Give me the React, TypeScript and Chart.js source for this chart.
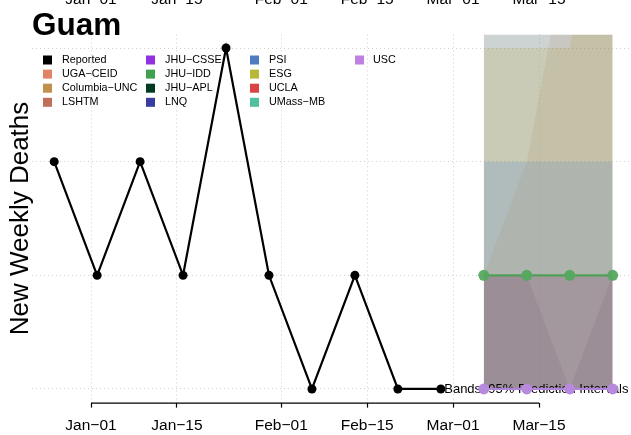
import React, { useEffect, useRef } from "react";
import { Chart, registerables } from "chart.js";

Chart.register(...registerables);

// ---------------- data ----------------
const regionName = "Guam";
const yAxisTitle = "New Weekly Deaths";
const bandNote = "Bands: 95% Prediction Intervals";

// x values are days since 2021-01-01
const reportedDays = [-6, 1, 8, 15, 22, 29, 36, 43, 50, 57];
const reportedDeaths = [2, 1, 2, 1, 3, 1, 0, 1, 0, 0];

const forecastDays = [64, 71, 78, 85];
const jhuIddMedian = [1, 1, 1, 1];
const uscMedian = [0, 0, 0, 0];

// 95% prediction interval bounds (stacked translucent layers)
const bandLower = [0, 0, 0, 0];
const bandUpperWide = [6, 6, 6, 6];
const bandUpperEsg = [3, 3, 3, 5];
const bandUpperPsi = [2, 2, 2, 2];
const bandUpperColumbia = [1, 2, 4, 6];
const bandUpperLshtm = [1, 1, 1, 1];
const bandUpperUsc = [1, 1, 0, 1];

const tickDays = [0, 14, 31, 45, 59, 73];
const tickLabels = ["Jan\u221201", "Jan\u221215", "Feb\u221201", "Feb\u221215", "Mar\u221201", "Mar\u221215"];
const yTicks = [0, 1, 2, 3];

const legendNames = [
  "Reported", "UGA\u2212CEID", "Columbia\u2212UNC", "LSHTM",
  "JHU\u2212CSSE", "JHU\u2212IDD", "JHU\u2212APL", "LNQ",
  "PSI", "ESG", "UCLA", "UMass\u2212MB",
  "USC",
];
const legendColors = [
  "#000000", "#e08468", "#c0904c", "#c0705a",
  "#9030e0", "#40a050", "#003a20", "#3a3ca0",
  "#4f7cc0", "#b8b838", "#d84444", "#50c0a0",
  "#c080e0",
];

// ---------------- styles ----------------
const FONT = "'Liberation Sans', Arial, Helvetica, sans-serif";
const bandLayers = [
  { name: "wide", upper: bandUpperWide, color: "rgba(144,155,155,0.45)" },
  { name: "ESG", upper: bandUpperEsg, color: "rgba(172,163,17,0.15)" },
  { name: "PSI", upper: bandUpperPsi, color: "rgba(80,128,211,0.2)" },
  { name: "Columbia-UNC", upper: bandUpperColumbia, color: "rgba(162,111,60,0.1)" },
  { name: "LSHTM", upper: bandUpperLshtm, color: "rgba(112,39,93,0.2)" },
  { name: "USC", upper: bandUpperUsc, color: "rgba(115,85,105,0.15)" },
];
const LEG_SQ_X = [43, 146, 250, 355];
const LEG_TX_X = [62, 165, 269, 373];
const LEG_Y0 = 60;
const LEG_DY = 14.1;

const pts = (xs: number[], ys: number[]) => xs.map((x, i) => ({ x, y: ys[i] }));

export default function App() {
  const ref = useRef<HTMLCanvasElement | null>(null);

  useEffect(() => {
    const canvas = ref.current;
    if (!canvas) return;
    Chart.defaults.font.family = FONT;

    const datasets: any[] = [];
    datasets.push({
      label: "Reported",
      data: pts(reportedDays, reportedDeaths),
      borderColor: "#000",
      backgroundColor: "#000",
      borderWidth: 2.2,
      pointRadius: 4.5,
      pointBackgroundColor: "#000",
      pointBorderColor: "#000",
      pointBorderWidth: 0,
      order: 0,
    });
    datasets.push({
      label: "JHU\u2212IDD",
      data: pts(forecastDays, jhuIddMedian),
      borderColor: "rgba(70,160,80,0.9)",
      backgroundColor: "rgba(85,168,95,0.95)",
      borderWidth: 2.2,
      pointRadius: 5.5,
      pointBackgroundColor: "rgba(85,168,95,0.95)",
      pointBorderWidth: 0,
      order: 1,
    });
    datasets.push({
      label: "USC",
      data: pts(forecastDays, uscMedian),
      borderColor: "#b084d8",
      backgroundColor: "#b88ade",
      borderWidth: 2.2,
      pointRadius: 5.5,
      pointBackgroundColor: "#b88ade",
      pointBorderWidth: 0,
      order: 2,
    });
    let noteIndex = -1;
    bandLayers.forEach((b, k) => {
      const ord = 100 - k * 10;
      datasets.push({
        label: b.name + " lower",
        data: pts(forecastDays, bandLower),
        borderColor: "rgba(0,0,0,0)",
        borderWidth: 0,
        pointRadius: 0,
        fill: false,
        order: ord,
      });
      datasets.push({
        label: b.name + " upper",
        data: pts(forecastDays, b.upper),
        borderColor: "rgba(0,0,0,0)",
        borderWidth: 0,
        pointRadius: 0,
        fill: "-1",
        backgroundColor: b.color,
        order: ord,
      });
      noteIndex = datasets.length - 1;
    });

    const decor = {
      id: "decor",
      beforeDatasetsDraw(chart: any) {
        const ctx = chart.ctx;
        ctx.save();
        ctx.font = `10.8px ${FONT}`;
        ctx.textBaseline = "middle";
        ctx.textAlign = "left";
        legendNames.forEach((name, i) => {
          const col = Math.floor(i / 4);
          const row = i % 4;
          const y = LEG_Y0 + row * LEG_DY;
          ctx.fillStyle = legendColors[i];
          ctx.fillRect(LEG_SQ_X[col], y - 4.5, 9, 9);
          ctx.fillStyle = "#000";
          ctx.fillText(name, LEG_TX_X[col], y);
        });
        ctx.restore();
      },
      afterDatasetDraw(chart: any, args: any) {
        if (args.index !== noteIndex) return;
        const ctx = chart.ctx;
        const ys = chart.scales.y;
        ctx.save();
        ctx.font = `13px ${FONT}`;
        ctx.fillStyle = "#000";
        ctx.textAlign = "right";
        ctx.textBaseline = "middle";
        ctx.fillText(bandNote, chart.chartArea.right - 3, ys.getPixelForValue(0));
        ctx.restore();
      },
      afterDraw(chart: any) {
        const ctx = chart.ctx;
        const xs = chart.scales.x;
        const yb = chart.chartArea.bottom + 0.5;
        ctx.save();
        ctx.strokeStyle = "#000";
        ctx.lineWidth = 1.2;
        ctx.beginPath();
        ctx.moveTo(xs.getPixelForValue(tickDays[0]), yb);
        ctx.lineTo(xs.getPixelForValue(tickDays[tickDays.length - 1]), yb);
        ctx.stroke();
        // tick labels of the panel above, cut off by the top edge
        ctx.font = `15.5px ${FONT}`;
        ctx.fillStyle = "#000";
        ctx.textAlign = "center";
        ctx.textBaseline = "alphabetic";
        tickDays.forEach((d, i) => {
          ctx.fillText(tickLabels[i], xs.getPixelForValue(d), 4);
        });
        ctx.restore();
      },
    };

    const chart = new Chart(canvas, {
      type: "line",
      data: { datasets },
      options: {
        animation: false,
        responsive: false,
        devicePixelRatio: 1,
        events: [],
        layout: { padding: 0 },
        plugins: {
          legend: { display: false },
          tooltip: { enabled: false },
          title: {
            display: true,
            text: regionName,
            align: "start",
            fullSize: false,
            color: "#000",
            font: { size: 31.5, weight: "bold", lineHeight: 0.495, family: FONT },
            padding: { top: 18.8, bottom: 0 },
          },
        },
        scales: {
          x: {
            type: "linear",
            min: -9.614,
            max: 88.07,
            afterBuildTicks: (s: any) => {
              s.ticks = tickDays.map((v) => ({ value: v }));
            },
            afterFit: (s: any) => {
              s.height = 32.4;
            },
            ticks: {
              color: "#000",
              font: { size: 15.5, family: FONT },
              padding: 9,
              maxRotation: 0,
              autoSkip: false,
              callback: (_v: any, i: number) => tickLabels[i] ?? "",
            },
            grid: {
              color: "#d0d0d0",
              lineWidth: 1,
              drawTicks: true,
              tickLength: 5,
              tickColor: "#000",
              tickWidth: 1.2,
              tickBorderDash: [],
            },
            border: { display: false, dash: [1, 3] },
          },
          y: {
            type: "linear",
            min: -0.12,
            max: 3.12,
            afterBuildTicks: (s: any) => {
              s.ticks = yTicks.map((v) => ({ value: v }));
            },
            afterFit: (s: any) => {
              s.width = 32;
            },
            ticks: { display: false },
            grid: { color: "#d0d0d0", lineWidth: 1, drawTicks: false },
            border: { display: false, dash: [1, 3] },
            title: {
              display: true,
              text: yAxisTitle,
              color: "#000",
              font: { size: 26, family: FONT },
              padding: { top: 5, bottom: 0 },
            },
          },
        },
      },
      plugins: [decor],
    } as any);

    return () => chart.destroy();
  }, []);

  return (
    <div style={{ position: "fixed", left: 0, top: 0, width: 631, height: 435, overflow: "hidden", background: "#fff" }}>
      <canvas ref={ref} width={637} height={435} style={{ width: 637, height: 435, display: "block" }} />
    </div>
  );
}
